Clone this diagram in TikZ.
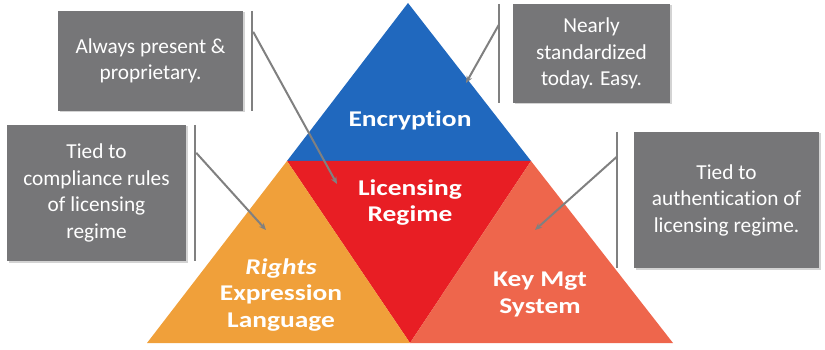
\documentclass[tikz,border=0pt]{standalone}
\usepackage{fontspec}
\setmainfont{Carlito}[Ligatures=NoCommon]
\newfontfamily\layerfont[FakeStretch=1.22, Ligatures=NoCommon]{Carlito}
\usepackage{tikz}
\usetikzlibrary{arrows.meta,calc,shadows}

\definecolor{encblue}{RGB}{32,104,190}
\definecolor{licred}{RGB}{232,30,36}
\definecolor{relorange}{RGB}{240,160,58}
\definecolor{keysalmon}{RGB}{238,102,76}
\definecolor{notegray}{RGB}{118,118,120}
\definecolor{linegray}{RGB}{128,128,128}

\begin{document}
\begin{tikzpicture}[x=1pt, y=-1pt,
  every node/.style={font=\fontsize{21.3}{26.5}\selectfont},
  note/.style={fill=notegray, text=white, align=center, inner sep=0pt,
    drop shadow={shadow xshift=1.5pt, shadow yshift=-1.5pt, opacity=0.35}},
  layer/.style={text=white, align=center, font=\layerfont\fontsize{22.5}{26.5}\selectfont\bfseries},
  bar/.style={draw=linegray, line width=2.5pt},
  arrow/.style={-{Stealth[length=7pt, width=6pt]}, draw=linegray, line width=2pt}
]
  \useasboundingbox (0,0) rectangle (825,350);

  % pyramid corners
  \coordinate (apex) at (408,3);
  \coordinate (baseL) at (147,343);
  \coordinate (baseR) at (673,343);
  \coordinate (midL) at (287,161);
  \coordinate (midR) at (531,161);
  \coordinate (baseM) at (410,343);

  \fill[encblue] (apex) -- (midL) -- (midR) -- cycle;
  \fill[licred] (midL) -- (midR) -- (baseM) -- cycle;
  \fill[relorange] (baseL) -- (midL) -- (baseM) -- cycle;
  \fill[keysalmon] (midR) -- (baseR) -- (baseM) -- cycle;

  \node[layer] (enc) at (410,120) {Encryption};
  \node[layer] (lic) at (410,202.5) {Licensing\\Regime};
  \node[layer] (rel) at (281,295) {\textit{Rights}\\Expression\\Language};
  \node[layer] (kms) at (540,294.5) {Key Mgt\\System};

  % call-out boxes
  \node[note, minimum width=185pt, minimum height=100pt] (present) at (150.5,61) {Always present \&\\proprietary.};
  \node[note, minimum width=157pt, minimum height=99pt] (standard) at (591.5,53.5) {Nearly\\standardized\\today. Easy.};
  \node[note, minimum width=179pt, minimum height=136pt] (comply) at (96.5,193) {Tied to\\compliance rules\\of licensing\\regime};
  \node[note, minimum width=185pt, minimum height=136pt] (auth) at (726.5,200) {Tied to\\authentication of\\licensing regime.};

  % bars beside the boxes
  \draw[bar] ([xshift=9pt]present.north east) -- ([xshift=9pt]present.south east);
  \draw[bar] ([xshift=-14pt]standard.north west) -- ([xshift=-14pt]standard.south west);
  \draw[bar] ([xshift=9pt]comply.north east) -- ([xshift=9pt]comply.south east);
  \draw[bar] ([xshift=-17pt]auth.north west) -- ([xshift=-17pt]auth.south west);

  \coordinate (presentFrom) at ([xshift=10pt, yshift=-21pt]present.north east);
  \coordinate (standardFrom) at ([xshift=-14pt, yshift=-21pt]standard.north west);
  \coordinate (complyFrom) at ([xshift=10pt, yshift=-28pt]comply.north east);
  \coordinate (authFrom) at ([xshift=-17pt, yshift=-25pt]auth.north west);

  \coordinate (presentTo) at (337,184);
  \coordinate (standardTo) at (466,83);
  \coordinate (complyTo) at (266,230);
  \coordinate (authTo) at (535,230);

  \draw[arrow] (presentFrom) -- (presentTo);
  \draw[arrow] (standardFrom) -- (standardTo);
  \draw[arrow] (complyFrom) -- (complyTo);
  \draw[arrow] (authFrom) -- (authTo);
\end{tikzpicture}
\end{document}
